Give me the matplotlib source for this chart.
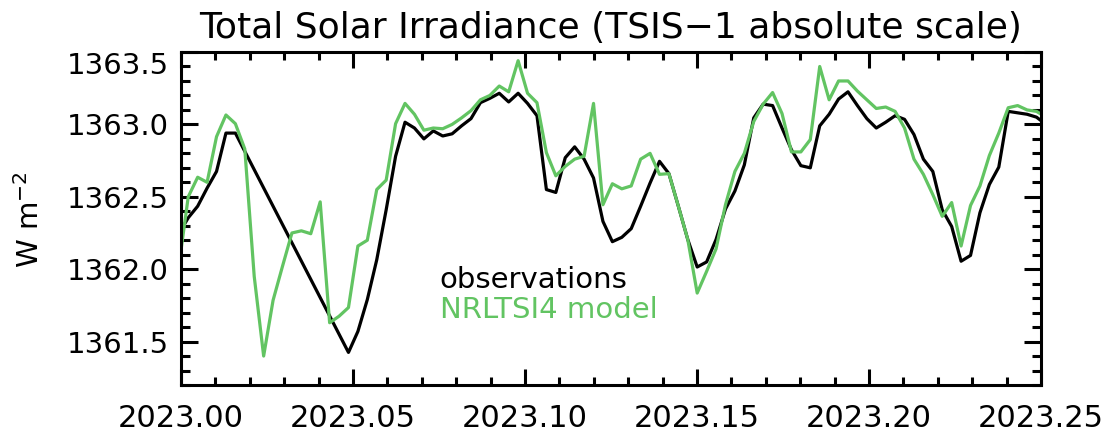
import numpy as np
import matplotlib
matplotlib.use("Agg")
import matplotlib.pyplot as plt
from matplotlib import ticker

# daily values, day index 0 = first day of 2023 (day -1 is clipped at the left edge)
day = np.arange(-1, 92)

# TSIS-1 observations (nan = no data, the line just joins across the gap)
obs = [1362.245,
       1362.355, 1362.435, 1362.56, 1362.675, 1362.94, 1362.94,
       np.nan, np.nan, np.nan, np.nan, np.nan, np.nan, np.nan, np.nan, np.nan, np.nan, np.nan,
       1361.425, 1361.57, 1361.79, 1362.065, 1362.41, 1362.78, 1363.015, 1362.975, 1362.90,
       1362.955, 1362.92, 1362.935, 1362.99, 1363.04, 1363.15, 1363.18, 1363.215, 1363.155,
       1363.215, 1363.145, 1363.06, 1362.55, 1362.53, 1362.77, 1362.845, 1362.76, 1362.63,
       1362.33, 1362.19, 1362.22, 1362.28, 1362.435, 1362.595, 1362.745, 1362.66, 1362.435,
       1362.205, 1362.015, 1362.05, 1362.205, 1362.415, 1362.54, 1362.72, 1363.045, 1363.14,
       1363.13, 1362.975, 1362.825, 1362.715, 1362.70, 1362.99, 1363.07, 1363.175, 1363.225,
       1363.13, 1363.04, 1362.975, 1363.015, 1363.06, 1363.035, 1362.93, 1362.76, 1362.675,
       1362.41, 1362.295, 1362.055, 1362.095, 1362.39, 1362.585, 1362.705, 1363.09, 1363.08,
       1363.07, 1363.05, 1363.00]

# NRLTSI4 model
model = [1362.02,
         1362.50, 1362.635, 1362.60, 1362.915, 1363.065, 1363.005, 1362.83, 1361.95, 1361.40,
         1361.785, 1362.02, 1362.25, 1362.265, 1362.245, 1362.465, 1361.63, 1361.675, 1361.735,
         1362.16, 1362.20, 1362.55, 1362.615, 1363.005, 1363.145, 1363.07, 1362.96, 1362.975,
         1362.97, 1363.00, 1363.045, 1363.095, 1363.17, 1363.20, 1363.265, 1363.225, 1363.44,
         1363.215, 1363.15, 1362.805, 1362.645, 1362.71, 1362.76, 1362.78, 1363.145, 1362.445,
         1362.59, 1362.555, 1362.575, 1362.76, 1362.80, 1362.655, 1362.66, 1362.435, 1362.205,
         1361.835, 1361.985, 1362.14, 1362.445, 1362.675, 1362.80, 1363.02, 1363.14, 1363.22,
         1363.075, 1362.81, 1362.81, 1362.895, 1363.40, 1363.17, 1363.30, 1363.30, 1363.23,
         1363.17, 1363.11, 1363.12, 1363.09, 1362.975, 1362.76, 1362.655, 1362.515, 1362.365,
         1362.46, 1362.16, 1362.44, 1362.575, 1362.785, 1362.94, 1363.115, 1363.13, 1363.10,
         1363.09, 1363.05]

x_ticks = [2023.00, 2023.05, 2023.10, 2023.15, 2023.20, 2023.25]
y_ticks = [1361.5, 1362.0, 1362.5, 1363.0, 1363.5]

green = "#62c462"

t = 2023 + (day + 0.77) / 365.0
obs = np.array(obs)
ok = ~np.isnan(obs)

fig = plt.figure(figsize=(11.09, 4.40), dpi=100)
ax = fig.add_axes([0.1632, 0.125, 0.7755, 0.7568])

ax.plot(t[ok], obs[ok], color="black", lw=2.3)
ax.plot(t, model, color=green, lw=2.3)

ax.set_xlim(2023.0, 2023.25)
ax.set_ylim(1361.2, 1363.5)

ax.set_xticks(x_ticks, ["%.2f" % v for v in x_ticks])
ax.set_yticks(y_ticks, ["%.1f" % v for v in y_ticks])
ax.xaxis.set_minor_locator(ticker.MultipleLocator(0.01))
ax.yaxis.set_minor_locator(ticker.MultipleLocator(0.1))
ax.tick_params(which="both", direction="in", top=True, right=True, width=2.2, labelsize=21)
ax.tick_params(axis="x", which="major", length=11.5, pad=14, labelsize=22)
ax.tick_params(axis="x", which="minor", length=5.8)
ax.tick_params(axis="y", which="major", length=12, pad=9)
ax.tick_params(axis="y", which="minor", length=6.5)
for s in ax.spines.values():
    s.set_linewidth(2.2)

# the top label sits below the frame line, as in the original
ax.get_yticklabels()[-1].set_va("top")

ax.set_title("Total Solar Irradiance (TSIS\u22121 absolute scale)", fontsize=26, pad=10)
fig.text(30 / 1109, 0.5, "W m$^{-2}$", rotation=90, fontsize=21, ha="center", va="center")

ax.text(0.301, 0.291, "observations", transform=ax.transAxes, fontsize=21,
        color="black", va="baseline")
ax.text(0.301, 0.201, "NRLTSI4 model", transform=ax.transAxes, fontsize=21,
        color=green, va="baseline")

fig.savefig("out.png", dpi=100)
